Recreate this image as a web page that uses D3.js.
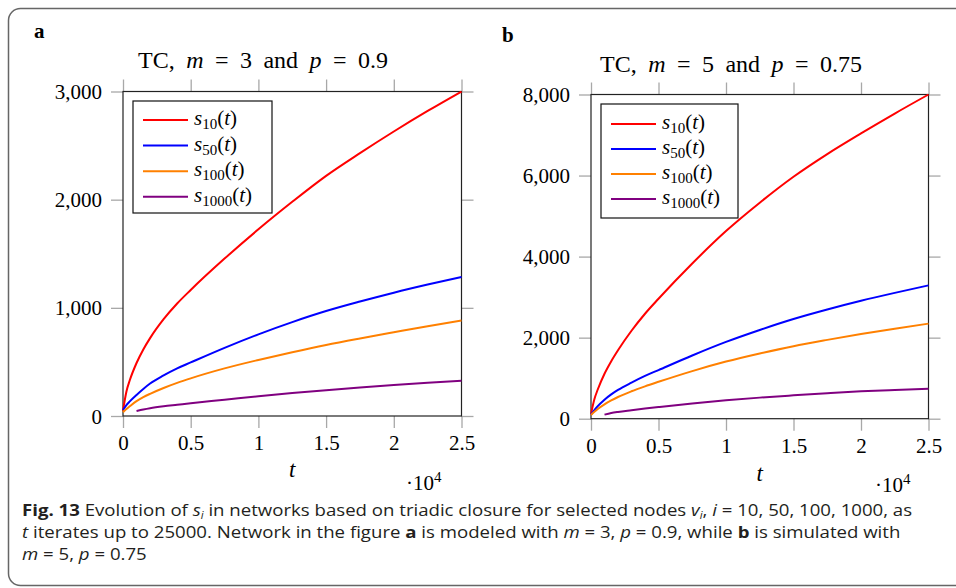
<!DOCTYPE html>
<html>
<head>
<meta charset="utf-8">
<script src="https://cdn.jsdelivr.net/npm/d3@7"></script>
<style>
  html, body { margin: 0; padding: 0; background: #fff; }
  svg { display: block; }
</style>
</head>
<body>
<svg id="chart" width="956" height="588"></svg>
<script>
// ---------------- DATA ----------------
const tTickValues = [0, 0.5, 1, 1.5, 2, 2.5];           // x ticks (×10^4)
const tValues = [0, 250, 500, 1000, 1500, 2000, 3000, 4000, 5000, 7500, 10000, 12500, 15000, 17500, 20000, 22500, 25000];
const tValuesLate = [1000, 1500, 2000, 3000, 4000, 5000, 7500, 10000, 12500, 15000, 17500, 20000, 22500, 25000];

const seriesNames = ["10", "50", "100", "1000"];
const seriesColors = ["#ff0000", "#0000ff", "#ff8000", "#800080"];

// Panel a: TC, m = 3, p = 0.9
const aYTicks = [0, 1000, 2000, 3000];
const aS10   = [50, 225, 330, 490, 615, 720, 895, 1040, 1165, 1455, 1726, 1980, 2220, 2430, 2630, 2820, 3000];
const aS50   = [55, 100, 135, 195, 250, 300, 375, 440, 495, 630, 755, 868, 970, 1058, 1140, 1215, 1285];
const aS100  = [35, 65, 90, 137, 174, 205, 259, 306, 348, 440, 518, 590, 657, 717, 774, 830, 882];
const aS1000 = [46, 60, 72, 90, 104, 118, 150, 183, 212, 239, 264, 287, 308, 327];

// Panel b: TC, m = 5, p = 0.75
const bYTicks = [0, 2000, 4000, 6000, 8000];
const bS10   = [120, 480, 720, 1110, 1420, 1690, 2170, 2590, 2960, 3830, 4630, 5330, 5970, 6530, 7040, 7530, 8000];
const bS50   = [100, 210, 310, 470, 600, 710, 890, 1055, 1200, 1560, 1895, 2190, 2460, 2695, 2910, 3105, 3290];
const bS100  = [90, 170, 240, 355, 450, 535, 676, 798, 910, 1175, 1410, 1610, 1790, 1945, 2090, 2222, 2346];
const bS1000 = [100, 140, 168, 210, 250, 288, 378, 453, 520, 576, 628, 675, 710, 741];

// ---------------- DRAW ----------------
const svg = d3.select("#chart");
const SERIF = "'Liberation Serif', 'DejaVu Serif', serif";

// outer rounded frame
svg.append("rect")
  .attr("x", 8.5).attr("y", 8.5).attr("width", 970).attr("height", 577)
  .attr("rx", 12).attr("ry", 12)
  .attr("fill", "none").attr("stroke", "#666").attr("stroke-width", 1.5);

function drawPanel(cfg) {
  const g = svg.append("g");
  const x = d3.scaleLinear().domain([0, 25000]).range([cfg.left, cfg.right]);
  const y = d3.scaleLinear().domain([0, cfg.yMax]).range([cfg.bottom, cfg.top]);

  // panel letter
  g.append("text").attr("x", cfg.letterX).attr("y", cfg.letterY)
    .attr("font-family", SERIF).attr("font-weight", "bold").attr("font-size", 21)
    .text(cfg.letter);

  // title
  const title = g.append("text")
    .attr("x", cfg.titleX).attr("y", cfg.titleY)
    .attr("font-family", SERIF).attr("font-size", 24)
    .attr("text-anchor", "middle");
  title.append("tspan").text("TC, ");
  title.append("tspan").attr("font-style", "italic").text("m");
  title.append("tspan").text(" = " + cfg.m + " and ");
  title.append("tspan").attr("font-style", "italic").text("p");
  title.append("tspan").text(" = " + cfg.p);
  const tw = title.node().getComputedTextLength();
  title.attr("word-spacing", Math.max(0, (cfg.titleW - tw) / 7));

  const tickStyle = sel => {
    sel.select(".domain").remove();
    sel.selectAll(".tick line").attr("stroke", "#a8a8a8").attr("stroke-width", 1.3);
    sel.selectAll(".tick text").attr("font-family", SERIF).attr("font-size", 21).attr("fill", "#000");
  };

  const tickX = tTickValues.map(v => v * 10000);
  g.append("g").attr("transform", `translate(0,${cfg.bottom})`)
    .call(d3.axisBottom(x).tickValues(tickX).tickSize(12).tickPadding(7)
      .tickFormat(v => d3.format("")(v / 10000)))
    .call(tickStyle)
    .call(s => s.selectAll(".tick text").attr("dy", "0.71em").attr("y", cfg.xLabelOff));
  g.append("g").attr("transform", `translate(0,${cfg.top})`)
    .call(d3.axisTop(x).tickValues(tickX).tickSize(12).tickFormat(""))
    .call(tickStyle);
  g.append("g").attr("transform", `translate(${cfg.left},0)`)
    .call(d3.axisLeft(y).tickValues(cfg.yTicks).tickSize(12).tickPadding(9)
      .tickFormat(d3.format(",")))
    .call(tickStyle)
    .call(s => s.selectAll(".tick text").attr("dy", "0.34em"));
  g.append("g").attr("transform", `translate(${cfg.right},0)`)
    .call(d3.axisRight(y).tickValues(cfg.yTicks).tickSize(12).tickFormat(""))
    .call(tickStyle);

  // frame
  g.append("rect").attr("x", cfg.left).attr("y", cfg.top)
    .attr("width", cfg.right - cfg.left).attr("height", cfg.bottom - cfg.top)
    .attr("fill", "none").attr("stroke", "#222").attr("stroke-width", 1.2);

  // lines
  const line = d3.line().x(d => x(d[0])).y(d => y(d[1])).curve(d3.curveMonotoneX);
  cfg.series.forEach((vals, i) => {
    const ts = vals.length === tValues.length ? tValues : tValuesLate;
    const pts = ts.map((t, k) => [t, vals[k]]);
    g.append("path").datum(pts).attr("d", line)
      .attr("fill", "none").attr("stroke", seriesColors[i])
      .attr("stroke-width", 2).attr("stroke-linejoin", "round");
  });

  // axis label t
  g.append("text").attr("x", (cfg.left + cfg.right) / 2).attr("y", cfg.tLabelY)
    .attr("font-family", SERIF).attr("font-style", "italic").attr("font-size", 23)
    .attr("text-anchor", "middle").text("t");
  const sc = g.append("text").attr("x", cfg.scaleX).attr("y", cfg.scaleY)
    .attr("font-family", SERIF).attr("font-size", 21);
  sc.append("tspan").text("·10");
  sc.append("tspan").attr("font-size", 15).attr("dy", -8).text("4");

  // legend
  const L = cfg.legend;
  g.append("rect").attr("x", L.x).attr("y", L.y).attr("width", L.w).attr("height", L.h)
    .attr("fill", "#fff").attr("stroke", "#111").attr("stroke-width", 1.2);
  seriesNames.forEach((nm, i) => {
    const yy = L.y + L.first + i * L.step;
    g.append("line").attr("x1", L.x + 10).attr("x2", L.x + 55)
      .attr("y1", yy).attr("y2", yy)
      .attr("stroke", seriesColors[i]).attr("stroke-width", 2);
    const tx = g.append("text").attr("x", L.x + 61).attr("y", yy + 5)
      .attr("font-family", SERIF).attr("font-size", 21);
    tx.append("tspan").attr("font-style", "italic").text("s");
    tx.append("tspan").attr("font-size", 15).attr("dy", 4).text(nm);
    tx.append("tspan").attr("dy", -4).text("(");
    tx.append("tspan").attr("font-style", "italic").text("t");
    tx.append("tspan").text(")");
  });
}

drawPanel({
  letter: "a", letterX: 34, letterY: 38,
  titleX: 263, titleY: 68, titleW: 250, m: "3", p: "0.9",
  left: 123, right: 461.5, top: 91.5, bottom: 416,
  yMax: 3000, yTicks: aYTicks,
  series: [aS10, aS50, aS100, aS1000],
  xLabelOff: 19, tLabelY: 477, scaleX: 406, scaleY: 490,
  legend: { x: 133, y: 101, w: 139, h: 112, first: 19, step: 25.6 }
});

drawPanel({
  letter: "b", letterX: 502, letterY: 42,
  titleX: 731, titleY: 72, titleW: 262, m: "5", p: "0.75",
  left: 591, right: 928.5, top: 94.5, bottom: 418.7,
  yMax: 8000, yTicks: bYTicks,
  series: [bS10, bS50, bS100, bS1000],
  xLabelOff: 19, tLabelY: 481, scaleX: 875, scaleY: 492,
  legend: { x: 601, y: 104, w: 137, h: 114, first: 20, step: 25 }
});

// ---------------- CAPTION ----------------
const SANS = "'Open Sans', 'Noto Sans', sans-serif";
const cap = svg.append("g").attr("font-family", SANS).attr("font-size", 16.5).attr("fill", "#231f20");

function addLine(y, parts) {
  const t = cap.append("text").attr("x", 0).attr("y", y);
  parts.forEach(p => {
    const ts = t.append("tspan").text(p.t);
    if (p.b) ts.attr("font-weight", "bold");
    if (p.i) ts.attr("font-style", "italic");
    if (p.sub) ts.attr("font-size", 10).attr("dy", 3);
    if (p.up) ts.attr("dy", -3);
  });
  return t;
}
const l1 = addLine(516, [
  { t: "Fig. 13", b: true }, { t: "  Evolution of " }, { t: "s", i: true }, { t: "i", i: true, sub: true },
  { t: " in networks based on triadic closure for selected nodes ", up: true }, { t: "v", i: true },
  { t: "i", i: true, sub: true }, { t: ", ", up: true }, { t: "i", i: true }, { t: " = 10, 50, 100, 1000, as" }
]);
addLine(538, [
  { t: "t", i: true }, { t: " iterates up to 25000. Network in the figure " }, { t: "a", b: true },
  { t: " is modeled with " }, { t: "m", i: true }, { t: " = 3, " }, { t: "p", i: true },
  { t: " = 0.9, while " }, { t: "b", b: true }, { t: " is simulated with" }
]);
addLine(560, [
  { t: "m", i: true }, { t: " = 5, " }, { t: "p", i: true }, { t: " = 0.75" }
]);
const w1 = l1.node().getComputedTextLength();
const sx = (913 - 22) / w1;
cap.attr("transform", `translate(22,0) scale(${sx},1)`);
</script>
</body>
</html>
